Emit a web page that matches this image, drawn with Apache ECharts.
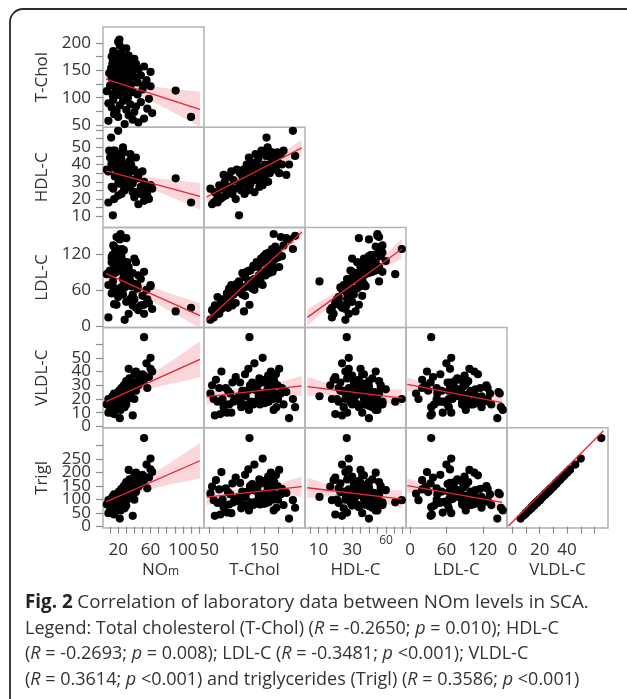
<!DOCTYPE html>
<html><head><meta charset="utf-8">
<script src="https://cdn.jsdelivr.net/npm/echarts@6/dist/echarts.min.js"></script>
<style>html,body{margin:0;padding:0;background:#fff}#c{width:627px;height:699px}</style>
</head><body><div id="c"></div>
<script>
// ---------- data (one entry per subject) ----------
const varNames = ['NOm', 'T-Chol', 'HDL-C', 'LDL-C', 'VLDL-C', 'Trigl'];
const nom = [28,45,8,38,52,20,110,33,15,62, 40,18,30,56,12,42,22,35,8,48, 26,14,58,32,13.5,20,44,28,16,38,
  6,91,24,50,34,18,27,60,10,52, 36,22,30,44,15,26,55,20,33,12, 40,24,29,48,17,35,22,9,31,60,
  27,14,38,23,45,19,11.4,32,26,52, 16,36,21,29,42,13,25,34,18,23, 30,15,40,20,27,12,33,18,24,14, 30,22,20,21.6];
const tchol = [52,55,58,60,62,65,65,68,70,72, 74,76,78,80,82,84,86,88,90,92, 94,96,98,100,104,105,106,108,110,110,
  112,113,114,115,116,118,120,121,122,123, 124,125,126,128,130,131,132,134,135,136, 138,139,140,141,142,143,144,145,146,147,
  148,149,150,151,152,153,154,155,156,157, 158,159,160,161,162,163,164,165,166,167, 168,170,171,172,174,175,177,180,182,185, 190,195,202,206];
const hdl = [26,17,18,24,19,22,18,28,20,26, 21,34,30,22,27,24,33,27,36,23, 31,26,20,37,10.6,29,35,25,33,29,
  37,32,23,36,30,40,25,28,44,26.8, 38,29,34,32,41,36,24,46,31,40, 36,43,32,27,38,46,30,48,33,28,
  38,47,31,40,34,45,55.6,36,50,30, 48,40,35,38,44,41,47,42,38,45, 40,44,37,42,47,41,35,46,40,48, 34,40,59.5,45];
const ldl = [10,26,14,34,20,48,30,20,36,28, 44,35,40,44,54,30,62,45,68,34, 52,64,38,70,74,56,66,64,88,52,
  86,24,64,50,80,90,68,66,92,35, 66,92,74,62,100,78,60,98,76,106, 70,100,84,78,104,74,112,90,106,68,
  86,116,88,110,84,120,86,95,108,90, 122,88,100,92,106,118,128,90,108,153, 96,132,112,118,126,114,98,148,116,134, 146,144,128,150];
const vldl = [24,30,20,8,34,18,null,28,9,40, 20,14,16,28,10,26,16,24,10,32, 18,20,36,20,22,18,32,14,16,26,
  16,null,26,38,22,15,26,42,12,65, 30,18,28,32,16,27,46,18,27,18, 30,25,22,35,16,33,19,17,24,50,
  24,17,32,17,34,19,18,23,27,37, 18,29,26,31,40,22,28,35,20,12, 33,24,38,14,30,20,42,24,28,16, 25,6,20,14];
const trigl = [122,148,98,40,172,88,null,138,45,202, 100,72,78,142,52,128,82,120,50,160, 90,100,182,102,110,92,162,68,80,130,
  82,null,128,192,110,76,130,212,60,328, 150,90,140,158,80,135,230,92,135,90, 150,125,110,175,82,165,95,85,120,252,
  118,85,160,86,170,96,90,115,135,185, 90,145,130,155,200,110,140,175,100,60, 165,120,190,70,150,100,210,120,140,80, 125,30,98,70];
const columns = [nom, tchol, hdl, ldl, vldl, trigl];

// ---------- axis ticks / labels ----------
const xMin = [1.3, 40.3, 2, -6.6, -3.9];
const xMax = [126, 224, 62, 160, 69.9];
const xTickVals = [[10,20,30,40,50,60,70,80,90,100,110,120],[50,75,100,125,150,175,200],[5,10,15,20,25,30,35,40,45,50,55,60],[0,60,120],[0,10,20,30,40,50,60]];
const xLabelVals = [[20,60,100],[50,150],[10,30],[0,60,120],[0,20,40]];
const yMin = [46.3, 3.6, -3, -1, -5];
const yMax = [229, 61.6, 164, 72, 366];
const yTickVals = [[50,75,100,125,150,175,200],[10,15,20,25,30,35,40,45,50,55,60],[0,60,120],[0,10,20,30,40,50,60],[0,50,100,150,200,250,300]];
const yLabelVals = [[50,100,150,200],[10,20,30,40,50],[0,60,120],[0,10,20,30,40,50],[0,50,100,150,200,250]];

// ---------- fitted lines and confidence bands ----------
// panel order: row by row, col 0..row
const fitXStart = [5, 5,45, 5,45,3.4, 5,45,3.4,-4.5, 5,45,3.4,-4.5,-2.9];
const fitXEnd   = [121, 121,218, 121,218,59.5, 121,218,59.5,152, 121,218,59.5,152,66.6];
const fitYStart = [134, 36.3,21.2, 87,9,14, 18.1,21.7,29,30.7, 92,109,144,152,2.4];
const fitYEnd   = [79, 21.6,49.6, 17,156,128, 48.8,29.5,20.6,17.4, 244,148,102,90,355];
const bandX = [[5,30,60,90,121],[45,85,125,170,218],[3.4,18,32,46,59.5],[-4.5,35,70,110,152],null];
const bandHalf = [
  [12,8.5,13,22,32],
  [2.9,2.1,3.2,5.3,7.7],[2.9,1.8,1.3,2.3,4.8],
  [11,9.7,11.5,15.6,21],[8,4.5,3.5,4.5,8],[14,8,6,8,17],
  [4.4,3.4,5.2,8.8,13.2],[6,3.6,2.8,3.8,7.4],[7,4,3,4,6.5],[5,3,2.5,3,6],
  [22,17,26,44,66],[30,18,14,19,37],[37,20,15,20,34],[27,15,12,15,31],null
];

// ---------- layout ----------
const colLeft = [103, 204, 305, 406, 507];
const rowTop = [27, 127.2, 227.4, 327.6, 427.8];
const PW = 101, PH = 100.2;
const FONT = '"Open Sans", "Noto Sans", sans-serif';
const tickStyle = {color: '#8c8c8c', width: 1.2};
const labelBase = {margin: 12, fontSize: 17, color: '#333', fontFamily: FONT, hideOverlap: false, showMinLabel: true, showMaxLabel: true};

const grids = [], xAxes = [], yAxes = [], series = [];
const graphics = [{type: 'rect', shape: {x: 10, y: 9, width: 660, height: 740, r: 13},
  style: {fill: 'none', stroke: '#2a2a2a', lineWidth: 1.8}, silent: true, z: 0}];
let k = 0;
for (let r = 0; r < 5; r++) {
  graphics.push({type: 'text', x: 42, y: rowTop[r] + PH / 2, rotation: Math.PI / 2,
    style: {text: varNames[r + 1], fontSize: 17, fill: '#333', fontFamily: FONT, align: 'center', verticalAlign: 'middle'}, silent: true});
  for (let c = 0; c <= r; c++) {
    const bottom = r === 4, left = c === 0;
    grids.push({left: colLeft[c], top: rowTop[r], width: PW, height: PH, show: true,
      borderColor: '#b3b3b3', borderWidth: 1.5, backgroundColor: 'transparent', containLabel: false});
    const xName = c === 0 ? '{n|NO}{m|m}' : varNames[c];
    xAxes.push({type: 'value', gridIndex: k, min: xMin[c], max: xMax[c],
      axisLine: {show: false}, splitLine: {show: false},
      axisTick: {show: bottom, customValues: xTickVals[c], length: 7, lineStyle: tickStyle},
      axisLabel: Object.assign({}, labelBase, {show: bottom, customValues: xLabelVals[c], margin: 14}),
      name: bottom ? xName : '', nameLocation: 'middle', nameGap: 34, nameMoveOverlap: false,
      nameTextStyle: {fontSize: 17, color: '#333', fontFamily: FONT,
        rich: {n: {fontSize: 17, color: '#333', fontFamily: FONT, padding: [0, 0, 0, 14]},
               m: {fontSize: 12, color: '#333', fontFamily: FONT, verticalAlign: 'bottom', padding: [0, 0, 1, 0]}}}
    });
    const yIndex = yAxes.length;
    const labs = yLabelVals[r];
    yAxes.push({type: 'value', gridIndex: k, position: 'left', min: yMin[r], max: yMax[r],
      axisLine: {show: false}, splitLine: {show: false},
      axisTick: {show: left, customValues: yTickVals[r], length: 7, lineStyle: tickStyle},
      axisLabel: Object.assign({}, labelBase, {show: left, customValues: labs.filter((v, i) => i % 2 === 0)})
    });
    if (left) {
      yAxes.push({type: 'value', gridIndex: k, position: 'left', offset: 0, min: yMin[r], max: yMax[r],
        axisLine: {show: false}, splitLine: {show: false}, axisTick: {show: false},
        axisLabel: Object.assign({}, labelBase, {show: true, customValues: labs.filter((v, i) => i % 2 === 1)})
      });
    }
    const xs = columns[c], ys = columns[r + 1];
    const pts = [];
    for (let i = 0; i < xs.length; i++) if (xs[i] != null && ys[i] != null) pts.push([xs[i], ys[i]]);
    const x0 = fitXStart[k], x1 = fitXEnd[k], y0 = fitYStart[k], y1 = fitYEnd[k];
    const bx = bandX[c], bh = bandHalf[k];
    if (bx && bh) {
      const upper = [], lower = [];
      for (let m = 0; m < bx.length; m++) {
        const yl = y0 + (y1 - y0) * (bx[m] - x0) / (x1 - x0);
        upper.push([bx[m], yl + bh[m]]);
        lower.push([bx[m], yl - bh[m]]);
      }
      const poly = upper.concat(lower.reverse());
      series.push({type: 'custom', xAxisIndex: k, yAxisIndex: yIndex, clip: true, silent: true, z: 1, data: [0],
        renderItem: (p, api) => ({type: 'polygon', shape: {points: poly.map(q => api.coord(q))},
          style: {fill: 'rgba(248,180,190,0.55)'}})});
    }
    series.push({type: 'scatter', xAxisIndex: k, yAxisIndex: yIndex, data: pts, symbol: 'circle', symbolSize: 8.2,
      itemStyle: {color: '#000', opacity: 1}, silent: true, z: 3});
    series.push({type: 'line', xAxisIndex: k, yAxisIndex: yIndex, data: [[x0, y0], [x1, y1]], showSymbol: false,
      lineStyle: {color: '#e8232e', width: 1.3}, silent: true, z: 4});
    k++;
  }
}

const rich = {
  b: {fontSize: 18.8, fontWeight: 'bold', fill: '#222', fontFamily: FONT},
  h: {fontSize: 18.8, fill: '#333', fontFamily: FONT},
  i: {fontSize: 18, fontStyle: 'italic', fill: '#333', fontFamily: FONT},
  t: {fontSize: 18, fill: '#333', fontFamily: FONT}
};
const captionLines = [
  '{b|Fig. 2} {h|Correlation of laboratory data between NOm levels in SCA.}',
  '{t|Legend: Total cholesterol (T-Chol) (}{i|R}{t| = -0.2650; }{i|p}{t| = 0.010); HDL-C}',
  '{t|(}{i|R}{t| = -0.2693; }{i|p}{t| = 0.008); LDL-C (}{i|R}{t| = -0.3481; }{i|p}{t| <0.001); VLDL-C}',
  '{t|(}{i|R}{t| = 0.3614; }{i|p}{t| <0.001) and triglycerides (Trigl) (}{i|R}{t| = 0.3586; }{i|p}{t| <0.001)}'
];
const captionY = [603, 628.5, 654, 679.5];
captionLines.forEach((t, i) => graphics.push({type: 'text', x: 25, y: captionY[i],
  style: {text: t, rich: rich, verticalAlign: 'middle', align: 'left', fontSize: 18, fill: '#333', fontFamily: FONT}, silent: true}));
graphics.push({type: 'text', x: 386, y: 541, style: {text: '60', fontSize: 12, fill: '#333', fontFamily: FONT, align: 'center', verticalAlign: 'middle'}, silent: true});

const chart = echarts.init(document.getElementById('c'), null, {renderer: 'canvas'});
chart.setOption({animation: false, backgroundColor: '#fff', grid: grids, xAxis: xAxes, yAxis: yAxes, series: series, graphic: graphics});
</script></body></html>
